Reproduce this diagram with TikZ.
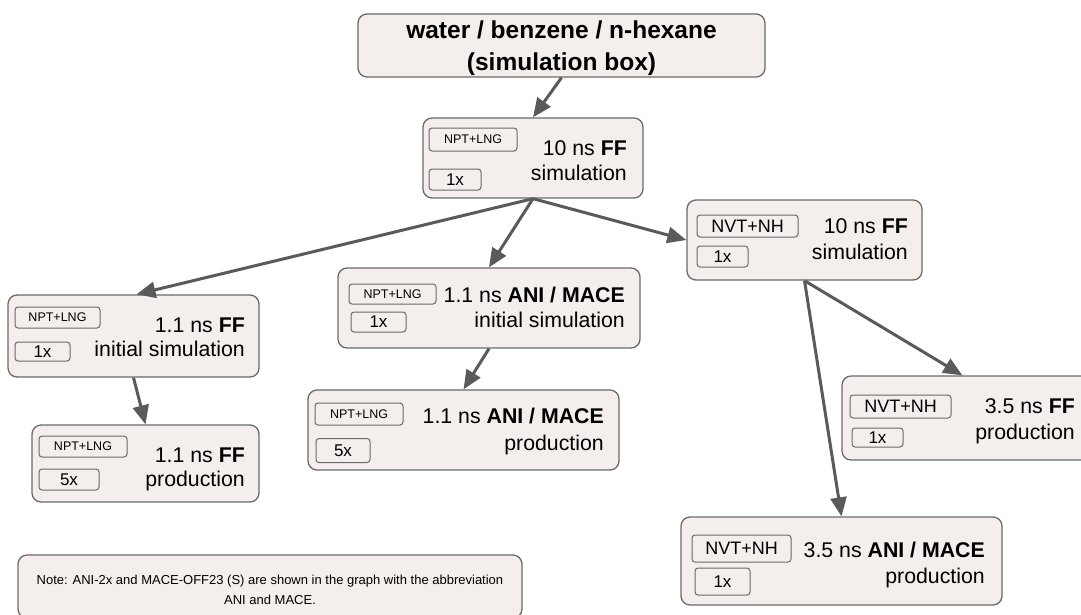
\documentclass[tikz,border=0pt]{standalone}
\usepackage{fontspec}
\setmainfont{Liberation Sans}
\usetikzlibrary{arrows.meta}
\definecolor{boxc}{HTML}{F4EEEC}
\definecolor{bordc}{HTML}{6A6A6A}
\definecolor{arrc}{HTML}{5A5A5A}
\tikzset{
  box/.style={draw=bordc, fill=boxc, line width=1.3pt, rounded corners=9pt, inner sep=0pt},
  tagbox/.style={draw=bordc, fill=boxc, line width=1pt, rounded corners=3pt, inner sep=0pt},
  smalltag/.style={tagbox, font=\fontsize{12.5}{14}\selectfont},
  midtag/.style={tagbox, font=\fontsize{18}{20}\selectfont},
  numtag/.style={tagbox, font=\fontsize{17}{19}\selectfont},
  txt/.style={inner sep=0pt, anchor=base east, font=\fontsize{21.3}{25}\selectfont},
  ttl/.style={inner sep=0pt, anchor=base, font=\bfseries\fontsize{24.5}{30}\selectfont},
  notetxt/.style={inner sep=0pt, anchor=base, font=\fontsize{13}{16}\selectfont},
  flow/.style={draw=arrc, line width=3pt, -{Triangle[length=19pt,width=16pt]}}
}
\begin{document}
\begin{tikzpicture}[x=1pt,y=-1pt]
\clip (0,0) rectangle (1081,614);
\useasboundingbox (0,0) rectangle (1081,614);

% top box
\node[box, minimum width=407pt, minimum height=63pt] (top) at (561.5,45.5) {};
\node[ttl] (top1) at (561.5,38) {water / benzene / n-hexane};
\node[ttl] (top2) at (561.5,70) {(simulation box)};

% box 2
\node[box, minimum width=220pt, minimum height=80pt] (b2) at (533,158) {};
\node[smalltag, minimum width=88pt, minimum height=23pt] (b2a) at (473,139.5) {NPT+LNG};
\node[numtag, minimum width=52pt, minimum height=21pt] (b2b) at (455,179.5) {1x};
\node[txt] (b2t1) at (627,155) {10 ns \textbf{FF}};
\node[txt] (b2t2) at (627,180) {simulation};

% box 3
\node[box, minimum width=235pt, minimum height=80pt] (b3) at (804.5,240) {};
\node[midtag, minimum width=101pt, minimum height=22pt] (b3a) at (747.5,226) {NVT+NH};
\node[numtag, minimum width=51pt, minimum height=21pt] (b3b) at (722.5,256.5) {1x};
\node[txt] (b3t1) at (908,233) {10 ns \textbf{FF}};
\node[txt] (b3t2) at (908,259) {simulation};

% left box
\node[box, minimum width=251pt, minimum height=82pt] (lb) at (133.5,336) {};
\node[smalltag, minimum width=85pt, minimum height=21pt] (lba) at (57.5,317.5) {NPT+LNG};
\node[numtag, minimum width=55pt, minimum height=19pt] (lbb) at (42.5,351.5) {1x};
\node[txt] (lbt1) at (245,332) {1.1 ns \textbf{FF}};
\node[txt] (lbt2) at (245,356) {initial simulation};

% left production
\node[box, minimum width=227pt, minimum height=77pt] (lbp) at (145.5,463.5) {};
\node[smalltag, minimum width=88pt, minimum height=21pt] (lbpa) at (83,446.5) {NPT+LNG};
\node[numtag, minimum width=60pt, minimum height=21pt] (lbpb) at (69,479.5) {5x};
\node[txt] (lbpt1) at (245,462) {1.1 ns \textbf{FF}};
\node[txt] (lbpt2) at (245,486) {production};

% middle box
\node[box, minimum width=302pt, minimum height=80pt] (mb) at (489,308) {};
\node[smalltag, minimum width=87pt, minimum height=20pt] (mba) at (392.5,294) {NPT+LNG};
\node[numtag, minimum width=55pt, minimum height=20pt] (mbb) at (378.5,322) {1x};
\node[txt] (mbt1) at (625,302) {1.1 ns \textbf{ANI / MACE}};
\node[txt] (mbt2) at (625,327) {initial simulation};

% middle production
\node[box, minimum width=311pt, minimum height=80pt] (mbp) at (463.5,430) {};
\node[smalltag, minimum width=88pt, minimum height=22pt] (mbpa) at (359,414) {NPT+LNG};
\node[numtag, minimum width=54pt, minimum height=24pt] (mbpb) at (343,450.5) {5x};
\node[txt] (mbpt1) at (604,423) {1.1 ns \textbf{ANI / MACE}};
\node[txt] (mbpt2) at (604,450) {production};

% right production (FF)
\node[box, minimum width=258pt, minimum height=84pt] (rp) at (971,418) {};
\node[midtag, minimum width=101pt, minimum height=23pt] (rpa) at (900.5,406.5) {NVT+NH};
\node[numtag, minimum width=51pt, minimum height=19pt] (rpb) at (877.5,437.5) {1x};
\node[txt] (rpt1) at (1075,413) {3.5 ns \textbf{FF}};
\node[txt] (rpt2) at (1075,439) {production};

% bottom right production (ANI / MACE)
\node[box, minimum width=321pt, minimum height=88pt] (brp) at (841.5,561) {};
\node[midtag, minimum width=99pt, minimum height=27pt] (brpa) at (741.5,548.5) {NVT+NH};
\node[numtag, minimum width=55pt, minimum height=27pt] (brpb) at (722.5,581.5) {1x};
\node[txt] (brpt1) at (985,557) {3.5 ns \textbf{ANI / MACE}};
\node[txt] (brpt2) at (985,583) {production};

% note
\node[box, minimum width=504pt, minimum height=63pt] (note) at (270,586.5) {};
\node[notetxt] (note1) at (270,584) {Note: ANI-2x and MACE-OFF23 (S) are shown in the graph with the abbreviation};
\node[notetxt] (note2) at (270,604) {ANI and MACE.};

% connectors
\draw[flow] (top.south) -- (b2.north);
\draw[flow] (b2.south) -- ([xshift=3pt]lb.north);
\draw[flow] (b2.south) -- (mb.north);
\draw[flow] (b2.south) -- (b3.west);
\draw[flow] (mb.south) -- (mbp.north);
\draw[flow] (lb.south) -- (lbp.north);
\draw[flow] (b3.south) -- ([xshift=121pt]rp.north west);
\draw[flow] (b3.south) -- (brp.north);
\end{tikzpicture}
\end{document}
